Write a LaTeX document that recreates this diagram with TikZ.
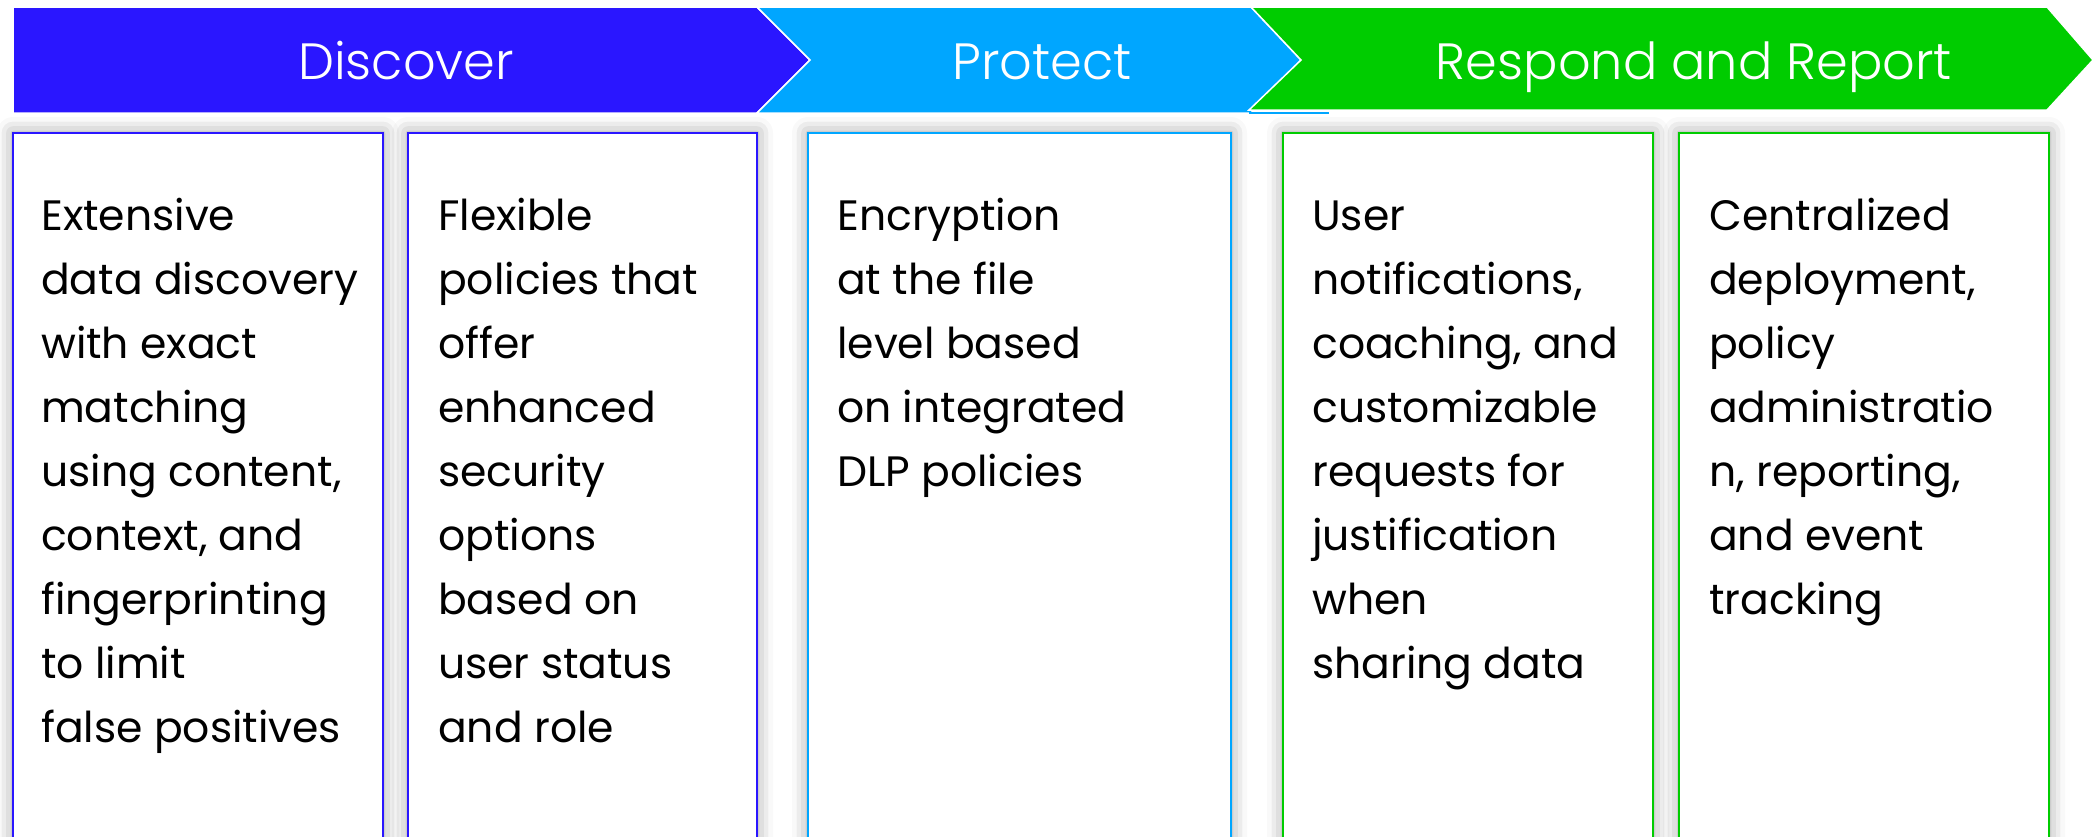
\documentclass[tikz,border=0pt]{standalone}
\usepackage{fontspec}
\setmainfont{Poppins}
\newfontfamily\hfont{Poppins Light}
\usetikzlibrary{shadows.blur}
\definecolor{cdisc}{RGB}{42,22,255}
\definecolor{cprot}{RGB}{0,166,255}
\definecolor{cresp}{RGB}{0,204,0}
\begin{document}
\begin{tikzpicture}[x=1pt,y=-1pt,
  chev/.style={draw=white, line width=1.5pt, line join=miter},
  card/.style={fill=white, line width=2pt, blur shadow={shadow xshift=0pt, shadow yshift=0pt, shadow blur radius=16pt, shadow opacity=40}},
  head/.style={text=white, font=\hfont\fontsize{51}{51}\selectfont, anchor=base, inner sep=0pt},
  body/.style={anchor=north west, align=left, font=\fontsize{42.5}{64}\selectfont, inner sep=0pt, text=black}
]
\useasboundingbox (0,0) rectangle (2093,836);
\clip (0,0) rectangle (2093,836);
% banner chevrons
\path[chev, fill=cdisc] (13,7) -- (757,7) -- (810,60) -- (757,113) -- (13,113) -- cycle;
\path[chev, fill=cprot] (757,7) -- (1251,7) -- (1301,60) -- (1251,113) -- (757,113) -- (810,60) -- cycle;
\fill[cprot] (1249,111.5) rectangle (1329,113.5);
\path[chev, fill=cresp] (1251,7) -- (2047,7) -- (2093,60) -- (2047,110) -- (1249,110) -- (1301,60) -- cycle;
\node[head] (hdisc) at (406,79) {Discover};
\node[head] (hprot) at (1042,79) {Protect};
\node[head] (hresp) at (1694,79) {Respond and Report};
% cards
\path[card, draw=cdisc] (13,133) rectangle (383,870);
\path[card, draw=cdisc] (408,133) rectangle (757,870);
\path[card, draw=cprot] (808,133) rectangle (1231,870);
\path[card, draw=cresp] (1283,133) rectangle (1653,870);
\path[card, draw=cresp] (1679,133) rectangle (2049,870);
% texts
\node[body] (t1) at (41,185.2) {\strut Extensive\\data discovery\\with exact\\matching\\using content,\\context, and\\fingerprinting\\to limit\\false positives};
\node[body] (t2) at (438,185.2) {\strut Flexible\\policies that\\offer\\enhanced\\security\\options\\based on\\user status\\and role};
\node[body] (t3) at (837,185.2) {\strut Encryption\\at the file\\level based\\on integrated\\DLP policies};
\node[body] (t4) at (1312,185.2) {\strut User\\notifications,\\coaching, and\\customizable\\requests for\\justification\\when\\sharing data};
\node[body] (t5) at (1709,185.2) {\strut Centralized\\deployment,\\policy\\administratio\\n, reporting,\\and event\\tracking};
\end{tikzpicture}
\end{document}
